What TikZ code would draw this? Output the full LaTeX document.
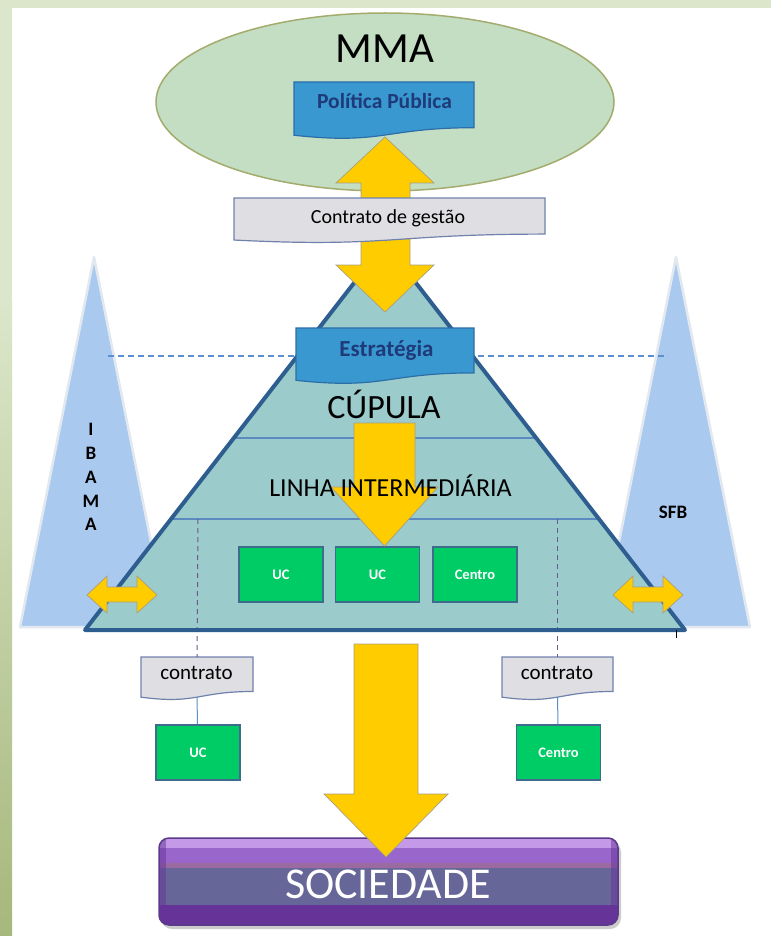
\documentclass[tikz,border=0pt]{standalone}
\usepackage{fontspec}
\setmainfont{Carlito}
\usetikzlibrary{shapes.geometric}
\definecolor{frame}{HTML}{DCE6CA}
\definecolor{stripdark}{HTML}{A6B87C}
\definecolor{ellfill}{HTML}{C3DEC3}
\definecolor{elledge}{HTML}{A3AB6D}
\definecolor{docblue}{HTML}{3A98D0}
\definecolor{docblueedge}{HTML}{2C6EA8}
\definecolor{navytext}{HTML}{1E3A78}
\definecolor{docgray}{HTML}{DFDFE3}
\definecolor{docgrayedge}{HTML}{6F82AD}
\definecolor{pyrfill}{HTML}{9CCBCB}
\definecolor{pyredge}{HTML}{2E5E90}
\definecolor{pyrline}{HTML}{5A8AC0}
\definecolor{triblue}{HTML}{A9C9EF}
\definecolor{triedge}{HTML}{E2E8EF}
\definecolor{arrowyellow}{HTML}{FFCC00}
\definecolor{arrowedge}{HTML}{A89F7F}
\definecolor{boxgreen}{HTML}{00CC66}
\definecolor{greenedge}{HTML}{3F6B8C}
\definecolor{purpdash}{HTML}{6A5A90}
\definecolor{connblue}{HTML}{5B8FC8}
\definecolor{hdashc}{HTML}{5B8FD0}
\definecolor{socA}{HTML}{C49AE8}
\definecolor{socB}{HTML}{9966CC}
\definecolor{socC}{HTML}{9A6AA0}
\definecolor{socD}{HTML}{666699}
\definecolor{socE}{HTML}{663399}
\definecolor{socedge}{HTML}{5B3A8A}
\newcommand\docshape[6]{%
  \draw[#1] (#3,#4) -- (#5,#4) -- (#5,{#4+0.802*#6})
    .. controls ({(#3+#5)/2},{#4+0.802*#6}) and ({(#3+#5)/2},{#4+1.107*#6}) .. (#3,{#4+0.934*#6}) -- cycle;
  \coordinate (#2-t) at ({(#3+#5)/2},#4);
  \coordinate (#2-b) at ({(#3+#5)/2},{#4+0.933*#6});
}
\begin{document}
\begin{tikzpicture}[x=1pt,y=-1pt,
  yarrow/.style={fill=arrowyellow, draw=arrowedge, line width=0.7pt, line join=miter},
  bluedoc/.style={fill=docblue, draw=docblueedge, line width=1.2pt},
  graydoc/.style={fill=docgray, draw=docgrayedge, line width=1.2pt},
  greenbox/.style={draw=greenedge, fill=boxgreen, line width=1.5pt, minimum width=84pt, minimum height=55pt, inner sep=0pt, text=white, font=\fontsize{14.5}{14.5}\selectfont\bfseries},
  sidetri/.style={fill=triblue, draw=triedge, line width=2.5pt, line join=round},
  sidelabel/.style={anchor=base, inner sep=0pt, font=\fontsize{19}{19}\selectfont\bfseries},
  txt/.style={anchor=base, inner sep=0pt},
  hdash/.style={draw=hdashc, line width=1.5pt, dash pattern=on 6pt off 4pt},
  vdash/.style={draw=purpdash, line width=1pt, dash pattern=on 5pt off 4pt},
  conn/.style={draw=connblue, line width=1pt},
  pyrsep/.style={draw=pyrline, line width=2pt}
]
\useasboundingbox (0,0) rectangle (771,936);
% background frame
\fill[frame] (0,0) rectangle (771,936);
\fill[white] (12,8) rectangle (771,936);
\shade[top color=frame, bottom color=stripdark] (0,300) rectangle (12,936);

% side triangles
\filldraw[sidetri] (94,257) -- (168,627) -- (20,627) -- cycle;
\filldraw[sidetri] (676,257) -- (750,627) -- (602,627) -- cycle;
\node[sidelabel] (ib1) at (91,435) {I};
\node[sidelabel] (ib2) at (91,459) {B};
\node[sidelabel] (ib3) at (91,483) {A};
\node[sidelabel] (ib4) at (91,507) {M};
\node[sidelabel] (ib5) at (91,530) {A};
\node[sidelabel] (sfb) at (673,518) {SFB};

% dashed horizontal line
\coordinate (dl) at (108,356);
\coordinate (dr) at (668,356);
\draw[hdash] (dl) -- (dr);

% contrato documents (bottom)
\docshape{graydoc}{c1}{141}{657}{253}{43}
\docshape{graydoc}{c2}{502}{657}{613}{43}
\node[txt, font=\fontsize{21}{21}\selectfont] (c1txt) at (196.5,679) {contrato};
\node[txt, font=\fontsize{21}{21}\selectfont] (c2txt) at (557,679) {contrato};

% ellipse MMA
\node[ellipse, draw=elledge, fill=ellfill, line width=1.5pt, minimum width=458pt, minimum height=178pt, inner sep=0pt] (mma) at (385,102) {};
\node[txt, font=\fontsize{43}{43}\selectfont] (mmatxt) at (385,63) {MMA};

% pyramid
\coordinate (apex) at (385,243);
\coordinate (bl) at (85,630);
\coordinate (br) at (685,630);
\fill[pyrfill] (apex) -- (br) -- (bl) -- cycle;
\coordinate (s1l) at (234,438); \coordinate (s1r) at (536,438);
\coordinate (s2l) at (172,519); \coordinate (s2r) at (598,519);
\draw[pyrsep] (s1l) -- (s1r);
\draw[pyrsep] (s2l) -- (s2r);
\coordinate (dv1) at (198,519);
\coordinate (dv2) at (557.5,519);
\draw[vdash] (dv1) -- (c1-t);
\draw[vdash] (dv2) -- (c2-t);
\draw[draw=pyredge, line width=4pt, line join=round] (apex) -- (br) -- (bl) -- cycle;
\draw[black, line width=1pt] (676,630) -- (676,638);

% green boxes in pyramid
\node[greenbox] (g1) at (281,574.5) {UC};
\node[greenbox] (g2) at (377.5,574.5) {UC};
\node[greenbox] (g3) at (475,574.5) {Centro};

% inner down arrow
\filldraw[yarrow] (354,423) -- (415,423) -- (415,487) -- (438,487) -- (384.5,546) -- (331,487) -- (354,487) -- cycle;

% small double arrows
\filldraw[yarrow] (87,595) -- (107,576) -- (107,587) -- (137,587) -- (137,576) -- (157,595) -- (137,613) -- (137,602) -- (107,602) -- (107,613) -- cycle;
\begin{scope}[shift={(526,0)}]
\filldraw[yarrow] (87,595) -- (107,576) -- (107,587) -- (137,587) -- (137,576) -- (157,595) -- (137,613) -- (137,602) -- (107,602) -- (107,613) -- cycle;
\end{scope}

% top vertical double arrow
\filldraw[yarrow] (385,137) -- (434,183) -- (410,183) -- (410,265) -- (434,265) -- (385,312) -- (336,265) -- (361,265) -- (361,183) -- (336,183) -- cycle;

% documents
\docshape{bluedoc}{pp}{294}{82}{474}{57}
\node[txt, text=navytext, font=\fontsize{21.5}{21.5}\selectfont\bfseries] (pptxt) at (384.5,109) {Política Pública};
\docshape{graydoc}{cg}{234}{198}{545}{45}
\node[txt, font=\fontsize{20}{20}\selectfont] (cgtxt) at (388,223) {Contrato de gestão};
\docshape{bluedoc}{es}{296}{328}{474}{56}
\node[txt, text=navytext, font=\fontsize{23}{23}\selectfont\bfseries] (estxt) at (386.5,356) {Estratégia};

% pyramid texts
\node[txt, font=\fontsize{34}{34}\selectfont] (cup) at (384,418) {CÚPULA};
\node[txt, font=\fontsize{26}{26}\selectfont] (lin) at (390.5,496) {LINHA INTERMEDIÁRIA};

% bottom green boxes and connectors
\node[greenbox] (g4) at (198,752.5) {UC};
\node[greenbox] (g5) at (558.5,752.5) {Centro};
\draw[conn] (c1-b) -- (g4);
\draw[conn] (c2-b) -- (g5);

% SOCIEDADE
\fill[black!20, rounded corners=11pt] (161,841) rectangle (621,929);
\begin{scope}
\clip[rounded corners=10pt] (159,838) rectangle (618,925);
\fill[socA] (159,838) rectangle (618,848);
\fill[socB] (159,848) rectangle (618,863);
\fill[socC] (159,863) rectangle (618,868);
\fill[socD] (159,868) rectangle (618,905);
\fill[socE] (159,905) rectangle (618,925);
\fill[socE, opacity=0.5] (159,838) rectangle (166,925);
\fill[socE, opacity=0.5] (611,838) rectangle (618,925);
\end{scope}
\node[draw=socedge, line width=1.5pt, rounded corners=10pt, minimum width=459pt, minimum height=87pt, inner sep=0pt] (soc) at (388.5,881.5) {};
\node[txt, text=white, font=\fontsize{44}{44}\selectfont] (soctxt) at (388,898) {SOCIEDADE};

% big down arrow
\filldraw[yarrow] (354,644) -- (418,644) -- (418,794) -- (448,794) -- (386,857) -- (324,794) -- (354,794) -- cycle;
\end{tikzpicture}
\end{document}
